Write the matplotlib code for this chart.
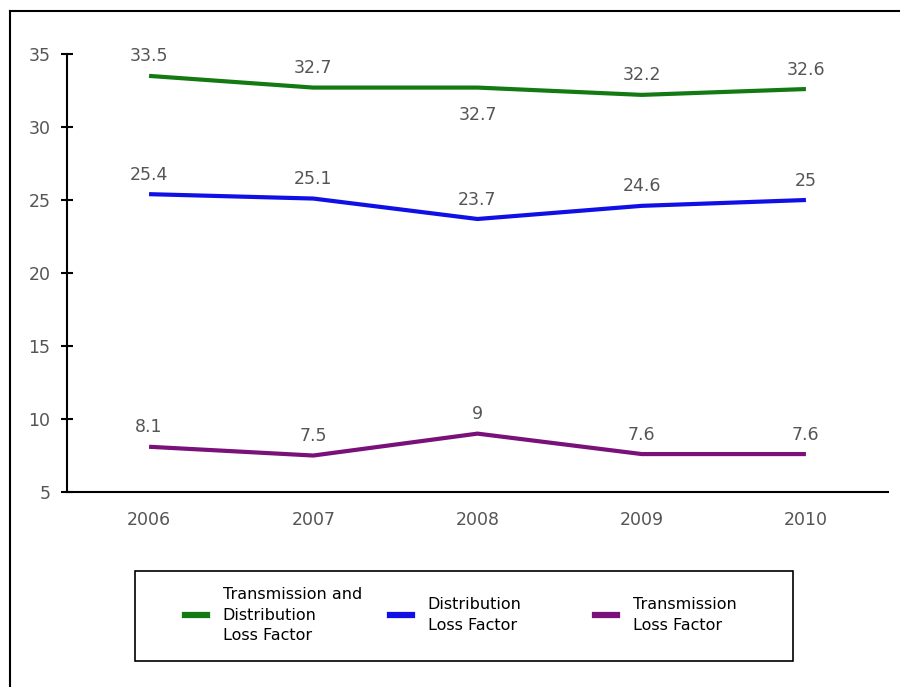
import numpy as np
import matplotlib
matplotlib.use("Agg")
from matplotlib import pyplot as plt
from matplotlib.lines import Line2D
from matplotlib.patches import Rectangle

years = ["2006", "2007", "2008", "2009", "2010"]
td_loss = [33.5, 32.7, 32.7, 32.2, 32.6]
dist_loss = [25.4, 25.1, 23.7, 24.6, 25]
trans_loss = [8.1, 7.5, 9, 7.6, 7.6]
labels = ["Transmission and\nDistribution\nLoss Factor",
          "Distribution\nLoss Factor",
          "Transmission\nLoss Factor"]
colors = ["#137a13", "#1010e6", "#7a107a"]

plt.rcParams['font.family'] = ['DejaVu Sans']

fig = plt.figure(figsize=(9, 6.87), dpi=100)
ax = fig.add_axes([0.0744, 0.2838, 0.9123, 0.6376])

x = np.arange(len(years))
series = [td_loss, dist_loss, trans_loss]
for vals, c in zip(series, colors):
    ax.plot(x, vals, color=c, lw=3, solid_capstyle='butt')

# value labels (2008 green one sits under the line)
for vals in series:
    for i, v in enumerate(vals):
        dy = -20 if (vals is td_loss and i == 2) else 14
        ax.annotate("%g" % v, (i, v), xytext=(0, dy), textcoords='offset points',
                    ha='center', va='center', fontsize=12.5, color='#555555')

ax.set_xlim(-0.5, 4.5)
ax.set_ylim(5, 35)
ax.set_yticks([5, 10, 15, 20, 25, 30, 35])
ax.set_xticks(x)
ax.set_xticklabels(years)
ax.tick_params(axis='y', direction='inout', length=8, width=1.5, colors='black',
               labelcolor='#555555', labelsize=12.5, pad=8)
ax.tick_params(axis='x', length=0, labelcolor='#555555', labelsize=12.5, pad=14)
for s in ['top', 'right']:
    ax.spines[s].set_visible(False)
ax.spines['left'].set_linewidth(1.5)
ax.spines['bottom'].set_linewidth(1.5)

# legend box with three entries at fixed positions
fig.add_artist(Rectangle((135/900, 1 - 661/687), 658/900, 90/687, fill=False,
                         edgecolor='black', lw=1.2, transform=fig.transFigure))
handle_x = [185, 390, 595]
for c, lab, hx in zip(colors, labels, handle_x):
    leg = fig.legend([Line2D([], [], color=c, lw=4.5)], [lab], loc='center left',
                     bbox_to_anchor=(hx/900, 1 - 615/687), fontsize=11.5,
                     frameon=False, handlelength=1.4, handletextpad=0.95,
                     borderpad=0, borderaxespad=0)
    for t in leg.get_texts():
        t.set_linespacing(1.45)

# outer border
fig.add_artist(Line2D([10/900, 10/900], [0, 1 - 11/687], color='black', lw=1.5,
                      transform=fig.transFigure))
fig.add_artist(Line2D([10/900, 1], [1 - 11/687, 1 - 11/687], color='black', lw=1.5,
                      transform=fig.transFigure))

fig.savefig("out.png", dpi=100)
